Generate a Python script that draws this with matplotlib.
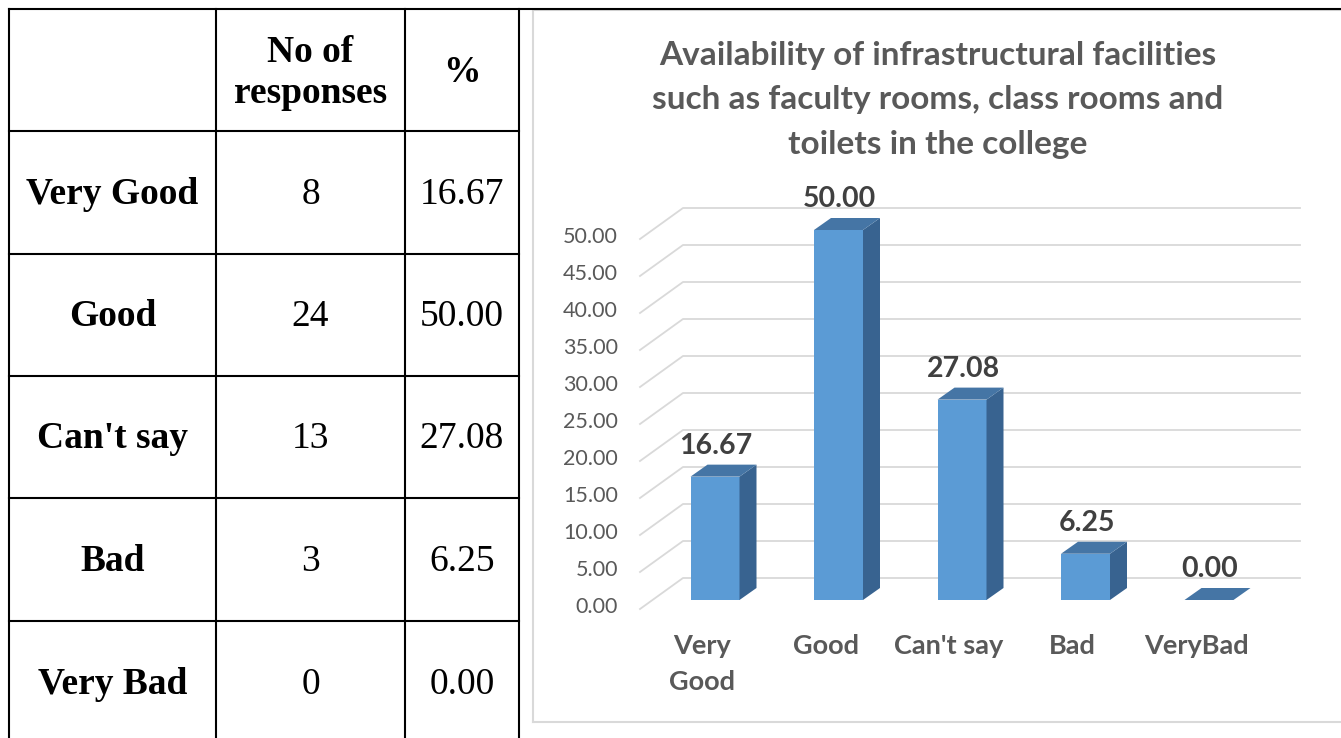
import numpy as np
import matplotlib.pyplot as plt
from matplotlib.patches import Polygon

# table data
row_labels = ['Very Good', 'Good', "Can't say", 'Bad', 'Very Bad']
responses = [8, 24, 13, 3, 0]
percent = [16.67, 50.00, 27.08, 6.25, 0.00]

# chart data
categories = ['Very\nGood', 'Good', "Can't say", 'Bad', 'VeryBad']
chart_values = [16.67, 50.00, 27.08, 6.25, 0.00]
yticks = np.arange(0, 55, 5)
title = ('Availability of infrastructural facilities\n'
         'such as faculty rooms, class rooms and\n'
         'toilets in the college')

W, H = 1341, 738
fig = plt.figure(figsize=(W / 100, H / 100), dpi=100)

# ---- table (pixel coords) ----
tab = fig.add_axes([0, 0, 1, 1])
tab.set_xlim(0, W)
tab.set_ylim(H, 0)
tab.axis('off')
tab.set_zorder(3)

col_x = [9, 216, 405, 519]
row_y = [9, 131, 254, 376, 498, 621, 744]
lw = 1.5
tab.plot([9, W], [9, 9], color='black', lw=lw, solid_capstyle='projecting')
for y in row_y[1:-1]:
    tab.plot([col_x[0], col_x[-1]], [y, y], color='black', lw=lw)
for x in col_x:
    tab.plot([x, x], [9, H], color='black', lw=lw, solid_capstyle='projecting')

serif = 'Liberation Serif'
cx = [(col_x[k] + col_x[k + 1]) / 2 for k in range(3)]
tab.text(cx[1], (row_y[0] + row_y[1]) / 2 + 3, 'No of\nresponses', ha='center', va='center',
         fontsize=27, fontweight='bold', family=serif, linespacing=1.25)
tab.text(cx[2], (row_y[0] + row_y[1]) / 2 + 2, '%', ha='center', va='center',
         fontsize=27, fontweight='bold', family=serif)
for k, lab in enumerate(row_labels):
    yc = (row_y[k + 1] + row_y[k + 2]) / 2 + 2
    tab.text(cx[0], yc, lab, ha='center', va='center', fontsize=27,
             fontweight='bold', family=serif)
    tab.text(cx[1], yc, str(responses[k]), ha='center', va='center', fontsize=27, family=serif)
    tab.text(cx[2], yc, f'{percent[k]:.2f}', ha='center', va='center', fontsize=27, family=serif)

# ---- chart ----
X0, PXI = 715, 123.5   # pixel x of first category, pixels per category
Y0, PXV = 600, 7.4     # pixel y of value 0, pixels per unit


def dx(p):
    return p / PXI


def dy(p):
    return p / PXV


ax = fig.add_axes([533 / W, (H - 722) / H, (W - 533) / W, (722 - 10) / H])
ax.set_zorder(1)
ax.set_xlim((533 - X0) / PXI, (W - X0) / PXI)
ax.set_ylim((Y0 - 722) / PXV, (Y0 - 10) / PXV)
ax.set_xticks([])
ax.set_yticks([])
for s in ['left', 'top', 'bottom']:
    ax.spines[s].set_color('#d9d9d9')
    ax.spines[s].set_linewidth(1.5)
ax.spines['right'].set_visible(False)

grey = '#d9d9d9'
fx, bx, ex = dx(640 - X0), dx(683 - X0), dx(1300 - X0)
for t in yticks:
    ax.plot([fx, bx, ex], [t - dy(9), t + dy(22), t + dy(22)], color=grey, lw=1.3, zorder=1)
    ax.text(dx(618 - X0), t - dy(7), f'{t:.2f}', ha='right', va='center',
            fontsize=15.5, family='Lato', color='#595959')

hw, ddx, ddy = dx(24.5), dx(17), dy(12)
for i, v in enumerate(chart_values):
    x0, x1 = i - hw, i + hw
    if v > 0:
        ax.add_patch(Polygon([(x0, 0), (x1, 0), (x1, v), (x0, v)], closed=True,
                             facecolor='#5b9bd5', edgecolor='none', zorder=3))
        ax.add_patch(Polygon([(x1, 0), (x1 + ddx, ddy), (x1 + ddx, v + ddy), (x1, v)], closed=True,
                             facecolor='#386390', edgecolor='none', zorder=3))
    ax.add_patch(Polygon([(x0, v), (x1, v), (x1 + ddx, v + ddy), (x0 + ddx, v + ddy)], closed=True,
                         facecolor='#4575a5', edgecolor='none', zorder=3))
    ax.text(i + dx(1), v + dy(31), f'{v:.2f}', ha='center', va='center',
            fontsize=20.5, fontweight='bold', family='Lato', color='#404040', zorder=4)
    ax.text(i - dx(13), dy(Y0 - 634), categories[i], ha='center', va='top',
            fontsize=19.5, fontweight='bold', family='Lato', color='#595959', linespacing=1.6)

fig.text(938 / W, 1 - 100 / H, title, ha='center', va='center', fontsize=24,
         fontweight='bold', family='Lato', color='#595959', linespacing=1.65)

fig.savefig('out.png', dpi=100)
